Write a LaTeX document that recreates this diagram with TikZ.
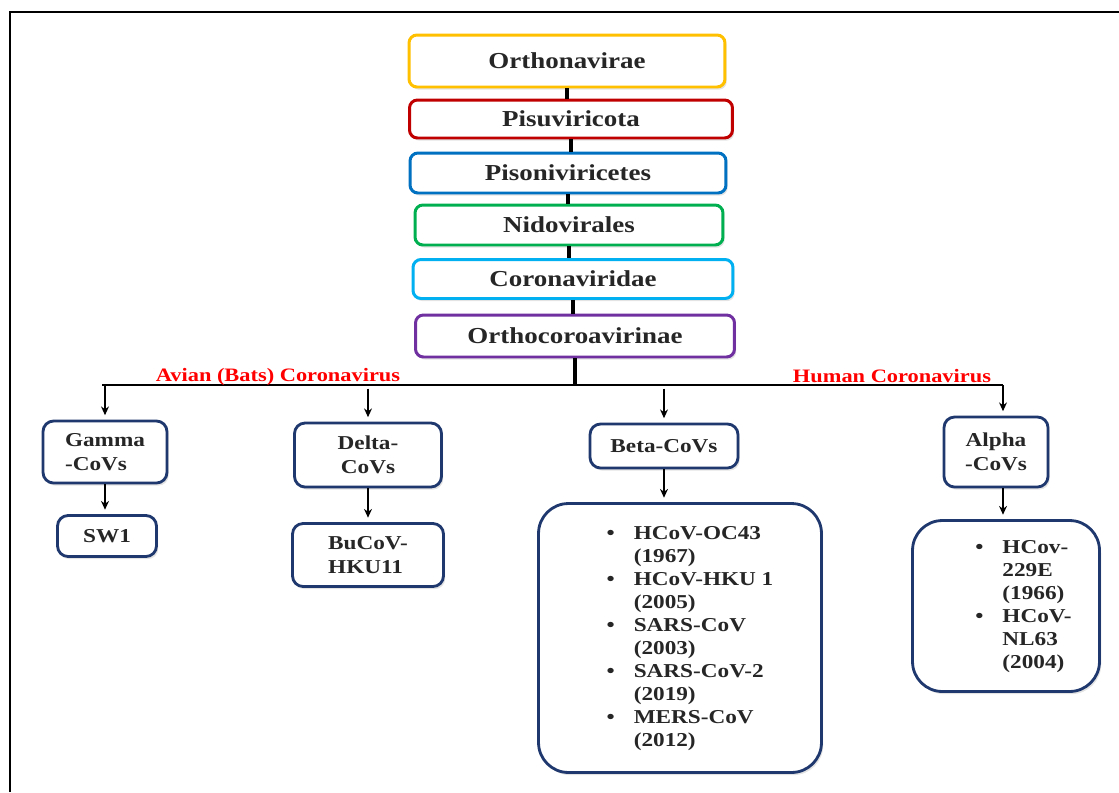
\documentclass[tikz,border=0pt]{standalone}
\usepackage{fontspec}
\setmainfont{Liberation Serif}[FakeStretch=1.18]
\usetikzlibrary{arrows.meta,shadows}
\definecolor{rankyellow}{HTML}{FFC000}
\definecolor{rankred}{HTML}{C00000}
\definecolor{rankblue}{HTML}{0070C0}
\definecolor{rankgreen}{HTML}{00B050}
\definecolor{rankcyan}{HTML}{00B0F0}
\definecolor{rankpurple}{HTML}{7030A0}
\definecolor{covnavy}{RGB}{31,56,110}
\tikzset{
  softshadow/.style={drop shadow={opacity=0.22, shadow xshift=1pt, shadow yshift=-1.5pt}},
  rank/.style={draw, rounded corners=4.5pt, line width=1.7pt, fill=white, softshadow,
    text=black!85, font=\fontsize{13}{15}\selectfont\bfseries},
  genus/.style={draw=covnavy, rounded corners=6pt, line width=1.6pt, fill=white, softshadow,
    text=black!85, font=\fontsize{11.2}{13.4}\selectfont\bfseries},
  listbox/.style={genus, rounded corners=17pt, font=\fontsize{11.2}{13.1}\selectfont\bfseries},
  stem/.style={line width=2.3pt},
  branch/.style={->, line width=0.8pt, shorten >=2.5pt},
  grouplabel/.style={anchor=base, text=red, font=\fontsize{10.8}{12}\selectfont\bfseries}
}
\begin{document}
\begin{tikzpicture}[x=0.02cm, y=-0.02cm, >={Stealth[length=5pt,width=4.5pt]}]
  \useasboundingbox (0,0) rectangle (1119,792);
  \draw[line width=1.4pt] (10,792) -- (10,12) -- (1119,12);
  % taxonomy ranks
  \node[rank, draw=rankyellow, minimum width=6.32cm, minimum height=1.04cm] (ortho) at (567,61) {Orthonavirae};
  \node[rank, draw=rankred, minimum width=6.46cm, minimum height=0.76cm] (pisu) at (571,119) {Pisuviricota};
  \node[rank, draw=rankblue, minimum width=6.32cm, minimum height=0.80cm] (pison) at (568,173) {Pisoniviricetes};
  \node[rank, draw=rankgreen, minimum width=6.16cm, minimum height=0.80cm] (nido) at (569,225) {Nidovirales};
  \node[rank, draw=rankcyan, minimum width=6.40cm, minimum height=0.78cm] (corona) at (573,279) {Coronaviridae};
  \node[rank, draw=rankpurple, minimum width=6.38cm, minimum height=0.84cm] (subfam) at (575,336) {Orthocoroavirinae};
  \foreach \a/\b in {ortho/pisu, pisu/pison, pison/nido, nido/corona, corona/subfam}
    \draw[stem] (\a.south) -- (\a.south |- \b.north);
  % branching line
  \coordinate (hub) at (577,385);
  \coordinate (gammatop) at (102,385);
  \coordinate (alphatop) at (1003,385);
  \draw[stem] (subfam.south) -- (subfam.south |- hub);
  \draw[line width=1.4pt] (gammatop) -- (alphatop);
  \node[grouplabel] (avian) at (278,381) {Avian (Bats) Coronavirus};
  \node[grouplabel] (human) at (892,382) {Human Coronavirus};
  % genera
  \node[genus, align=left, minimum width=2.48cm, minimum height=1.24cm] (gamma) at (105,452) {Gamma\\-CoVs};
  \node[genus, minimum width=1.98cm, minimum height=0.82cm] (sw) at (107,536) {SW1};
  \node[genus, align=center, minimum width=2.94cm, minimum height=1.28cm] (delta) at (368,455) {Delta-\\CoVs};
  \node[genus, align=left, minimum width=3.02cm, minimum height=1.26cm] (bucov) at (368,555) {BuCoV-\\HKU11};
  \node[genus, minimum width=2.96cm, minimum height=0.88cm] (beta) at (664,446) {Beta-CoVs};
  \node[genus, align=center, minimum width=2.08cm, minimum height=1.40cm] (alpha) at (996,452) {Alpha\\-CoVs};
  \node[listbox, minimum width=5.66cm, minimum height=5.38cm] (betalist) at (680,638) {\hspace*{0.4cm}%
    \begin{tabular}{@{}l@{\hspace{0.38cm}}l@{}}
      \textbullet & HCoV-OC43\\ & (1967)\\
      \textbullet & HCoV-HKU 1\\ & (2005)\\
      \textbullet & SARS-CoV\\ & (2003)\\
      \textbullet & SARS-CoV-2\\ & (2019)\\
      \textbullet & MERS-CoV\\ & (2012)
    \end{tabular}};
  \node[listbox, minimum width=3.74cm, minimum height=3.42cm] (alphalist) at (1006,606) {\hspace*{0.7cm}%
    \begin{tabular}{@{}l@{\hspace{0.38cm}}l@{}}
      \textbullet & HCov-\\ & 229E\\ & (1966)\\
      \textbullet & HCoV-\\ & NL63\\ & (2004)
    \end{tabular}};
  % arrows
  \draw[branch] (gamma.north |- hub) -- (gamma.north);
  \draw[branch] ([yshift=-2pt]delta.north |- hub) -- (delta.north);
  \draw[branch] ([yshift=-2pt]beta.north |- hub) -- (beta.north);
  \draw[branch] (alphatop) -- (alphatop |- alpha.north);
  \draw[branch] (gamma.south) -- (gamma.south |- sw.north);
  \draw[branch] (delta.south) -- (delta.south |- bucov.north);
  \draw[branch] (beta.south) -- (beta.south |- betalist.north);
  \draw[branch] (alphatop |- alpha.south) -- (alphatop |- alphalist.north);
\end{tikzpicture}
\end{document}
